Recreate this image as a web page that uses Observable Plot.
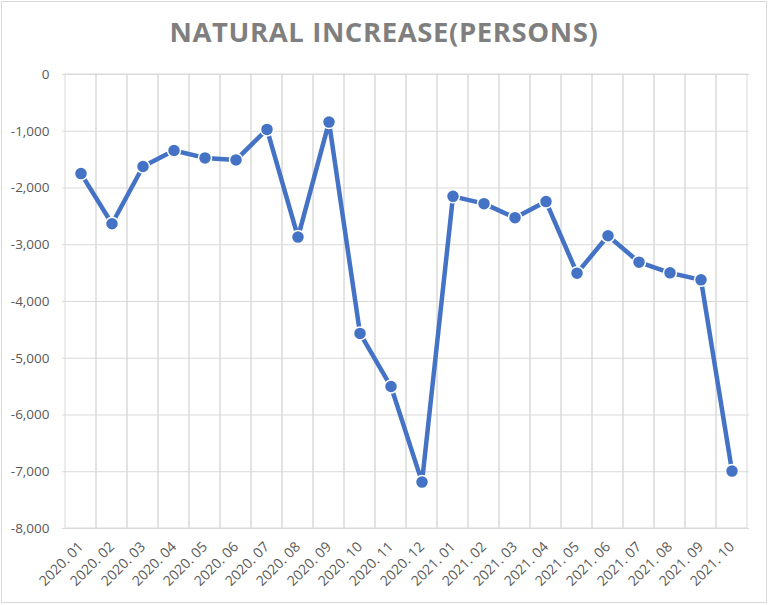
<!DOCTYPE html>
<html>
<head>
<meta charset="utf-8">
<script src="https://cdn.jsdelivr.net/npm/d3@7"></script>
<script src="https://cdn.jsdelivr.net/npm/@observablehq/plot@0.6"></script>
<style>
  html, body { margin: 0; padding: 0; background: #fff; }
  #frame {
    position: relative; width: 764px; height: 600px; margin: 1px 1px 0 1px;
    border: 1px solid #d9d9d9; background: #fff; overflow: hidden;
  }
  #title {
    height: 60px; line-height: 60px; text-align: center;
    font-family: "Open Sans", sans-serif; font-weight: 700; font-size: 27.5px;
    color: #7f7f7f; letter-spacing: 0.6px;
  }
  #chart svg text { fill: #595959; }
</style>
</head>
<body>
<div id="frame">
  <div id="title">NATURAL INCREASE(PERSONS)</div>
  <div id="chart"></div>
</div>
<script>
const months = ["2020. 01","2020. 02","2020. 03","2020. 04","2020. 05","2020. 06","2020. 07","2020. 08","2020. 09","2020. 10","2020. 11","2020. 12",
                "2021. 01","2021. 02","2021. 03","2021. 04","2021. 05","2021. 06","2021. 07","2021. 08","2021. 09","2021. 10"];
const values = [-1746,-2630,-1622,-1340,-1470,-1505,-968,-2865,-839,-4562,-5498,-7182,
                -2147,-2276,-2523,-2240,-3501,-2842,-3307,-3495,-3618,-6988];
const yTicks = [0,-1000,-2000,-3000,-4000,-5000,-6000,-7000,-8000];

const data = months.map((m, i) => ({month: m, value: values[i]}));

const chart = Plot.plot({
  width: 764,
  height: 540,
  marginTop: 12,
  marginLeft: 60,
  marginRight: 17,
  marginBottom: 74,
  style: {fontFamily: "'Open Sans', sans-serif", fontSize: "13.5px", color: "#595959", background: "#fff"},
  x: {type: "band", domain: months, padding: 0, label: null, tickRotate: -45, tickSize: 0, tickPadding: 16},
  y: {domain: [-8000, 0], ticks: yTicks, label: null, tickSize: 0, tickPadding: 13,
      tickFormat: d => d.toLocaleString("en-US")},
  marks: [
    Plot.cell(months, {x: d => d, fill: "none", stroke: "#d9d9d9", strokeWidth: 1, inset: 0}),
    Plot.ruleY(yTicks, {stroke: "#d9d9d9", strokeWidth: 1}),
    Plot.line(data, {x: "month", y: "value", stroke: "#4472C4", strokeWidth: 4.5, strokeLinejoin: "round"}),
    Plot.dot(data, {x: "month", y: "value", r: 6.5, fill: "#4472C4", stroke: "#fff", strokeWidth: 1.5})
  ]
});
chart.querySelectorAll("g[aria-label='x-axis tick label'] text, g[aria-label='x-axis tick label']").forEach(el => el.setAttribute("font-size", "14px"));
document.getElementById("chart").appendChild(chart);
</script>
</body>
</html>
